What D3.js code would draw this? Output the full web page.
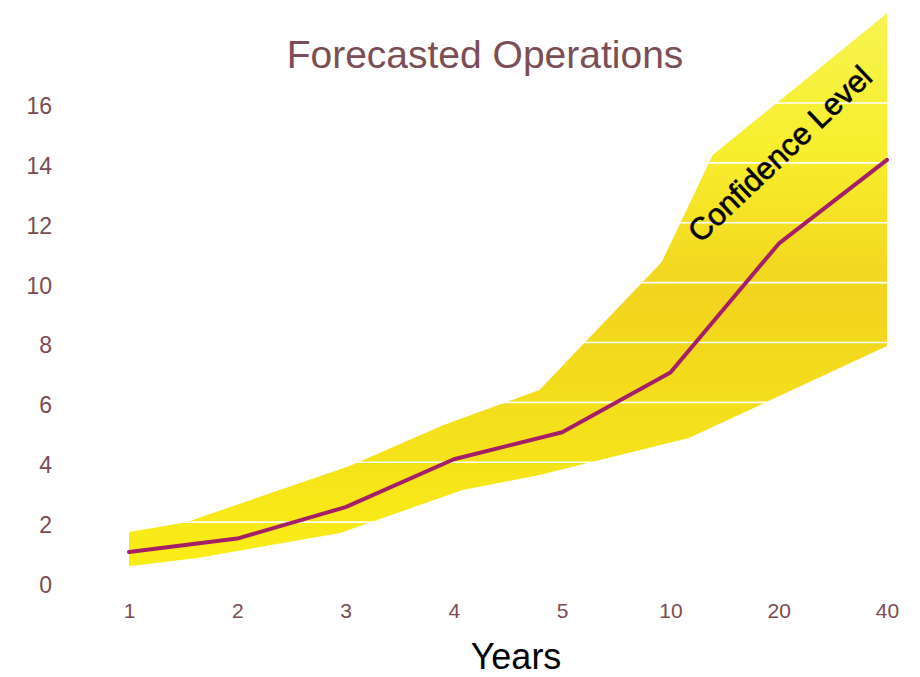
<!DOCTYPE html>
<html>
<head>
<meta charset="utf-8">
<script src="https://cdn.jsdelivr.net/npm/d3@7"></script>
<style>
  html, body { margin: 0; padding: 0; background: #ffffff; }
  svg { display: block; font-family: "Liberation Sans", Arial, sans-serif; }
</style>
</head>
<body>
<svg id="chart" width="920" height="677"></svg>
<script>
// Forecast horizon categories (years)
const years = ["1", "2", "3", "4", "5", "10", "20", "40"];
// Forecasted operations at each horizon
const forecast = [1.0, 1.45, 2.5, 4.1, 5.0, 7.0, 11.3, 14.1];

// Confidence band outline: position along the category axis (0 = first year) and value
const upperPos = [0, 0.53, 2.03, 2.9, 3.79, 4.92, 5.39, 7];
const upperVal = [1.67, 2.0, 3.87, 5.24, 6.41, 10.69, 14.26, 19.0];
const lowerPos = [0, 0.63, 1.95, 3.08, 3.79, 5.17, 7];
const lowerVal = [0.53, 0.8, 1.64, 3.07, 3.57, 4.81, 7.88];

// Value axis ticks
const yTicks = [0, 2, 4, 6, 8, 10, 12, 14, 16];

const svg = d3.select("#chart");

const x = d3.scaleLinear().domain([0, years.length - 1]).range([129, 887]);
const y = d3.scaleLinear().domain([0, 16]).range([582, 103]);

// Band fill: pale lemon at the top, golden through the middle
const defs = svg.append("defs");
const grad = defs.append("linearGradient")
  .attr("id", "bandFill")
  .attr("gradientUnits", "userSpaceOnUse")
  .attr("x1", 0).attr("y1", 10).attr("x2", 0).attr("y2", 575);
[[0, "#f7f450"], [0.25, "#f7ee2c"], [0.5, "#f2d41e"], [0.72, "#f4df1c"], [1, "#faee16"]]
  .forEach(([o, c]) => grad.append("stop").attr("offset", o).attr("stop-color", c));

// Confidence band polygon
const upperPts = upperPos.map((p, i) => [x(p), y(upperVal[i])]);
const lowerPts = lowerPos.map((p, i) => [x(p), y(lowerVal[i])]).reverse();
svg.append("path")
  .attr("d", d3.line()(upperPts.concat(lowerPts)) + "Z")
  .attr("fill", "url(#bandFill)");

// White horizontal gridlines (visible only across the band)
svg.append("g")
  .selectAll("line")
  .data(yTicks.filter(d => d > 0))
  .join("line")
  .attr("x1", x(0)).attr("x2", x(years.length - 1))
  .attr("y1", d => y(d)).attr("y2", d => y(d))
  .attr("stroke", "#ffffff")
  .attr("stroke-width", 1.6);

// Forecast line
svg.append("path")
  .datum(forecast)
  .attr("d", d3.line().x((d, i) => x(i)).y(d => y(d)))
  .attr("fill", "none")
  .attr("stroke", "#a51f68")
  .attr("stroke-width", 4)
  .attr("stroke-linejoin", "round")
  .attr("stroke-linecap", "round");

// Y axis (labels only)
const yAxis = svg.append("g")
  .attr("transform", "translate(52,3)")
  .call(d3.axisLeft(y).tickValues(yTicks).tickSize(0).tickPadding(0));
yAxis.select(".domain").remove();
yAxis.selectAll("text")
  .attr("font-size", 23)
  .attr("font-family", "'Liberation Sans', Arial, sans-serif")
  .attr("fill", "#7a4b52");

// X axis (labels only)
const xAxis = svg.append("g")
  .attr("transform", "translate(0,603)")
  .call(d3.axisBottom(x).tickValues(d3.range(years.length))
    .tickFormat(i => years[i]).tickSize(0).tickPadding(0));
xAxis.select(".domain").remove();
xAxis.selectAll("text")
  .attr("font-size", 21)
  .attr("font-family", "'Liberation Sans', Arial, sans-serif")
  .attr("fill", "#7a4b52");

// Title
svg.append("text")
  .attr("x", 485).attr("y", 68)
  .attr("text-anchor", "middle")
  .attr("font-size", 39)
  .attr("fill", "#7b4e55")
  .text("Forecasted Operations");

// Axis title
svg.append("text")
  .attr("x", 516).attr("y", 669)
  .attr("text-anchor", "middle")
  .attr("font-size", 36)
  .attr("fill", "#000000")
  .text("Years");

// Band annotation
svg.append("text")
  .attr("transform", "translate(780,154) rotate(-43.5)")
  .attr("text-anchor", "middle")
  .attr("dominant-baseline", "central")
  .attr("font-size", 31)
  .attr("fill", "#000000")
  .attr("stroke", "#000000")
  .attr("stroke-width", 0.6)
  .text("Confidence Level");
</script>
</body>
</html>
